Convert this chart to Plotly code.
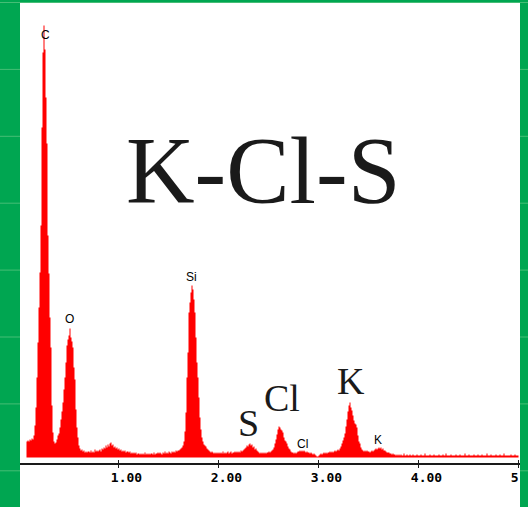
import numpy as np
import plotly.graph_objects as go

# Energy channels (keV), 0.01 keV per channel
energy = np.round(np.arange(501) * 0.01, 2)

# Counts per channel (arbitrary units), one row per 0.1 keV
counts = [
    0, 0, 0, 0, 0, 0, 0, 0, 16, 17,                      # 0.0
    16, 18, 17, 19, 18, 22, 32, 50, 80, 115,             # 0.1
    150, 185, 232, 330, 405, 432, 408, 360, 314, 222,    # 0.2
    184, 140, 110, 52, 25, 16, 14, 15, 18, 22,           # 0.3
    24, 30, 38, 46, 55, 68, 80, 95, 112, 118,            # 0.4
    122, 129, 120, 116, 110, 90, 78, 48, 30, 20,         # 0.5
    12, 9, 7, 8, 6, 7, 5, 6, 5, 6,                       # 0.6
    6, 5, 7, 5, 6, 5, 8, 6, 7, 6,                        # 0.7
    7, 8, 6, 9, 8, 10, 9, 12, 10, 13,                    # 0.8
    11, 14, 15, 12, 13, 10, 11, 9, 10, 8,                # 0.9
    9, 7, 8, 6, 7, 6, 7, 5, 6, 6,                        # 1.0
    5, 6, 4, 5, 4, 5, 4, 5, 3, 4,                        # 1.1
    4, 3, 4, 3, 4, 3, 5, 3, 4, 3,                        # 1.2
    4, 3, 4, 4, 3, 5, 3, 4, 4, 5,                        # 1.3
    4, 5, 4, 3, 5, 4, 6, 4, 5, 4,                        # 1.4
    6, 5, 4, 6, 5, 6, 5, 7, 6, 7,                        # 1.5
    7, 8, 9, 10, 12, 16, 26, 45, 80, 105,                # 1.6
    145, 155, 165, 172, 168, 158, 145, 120, 95, 80,      # 1.7
    60, 40, 28, 20, 16, 13, 12, 11, 9, 8,                # 1.8
    7, 6, 5, 6, 5, 4, 5, 4, 5, 4,                        # 1.9
    5, 4, 5, 4, 6, 4, 5, 4, 5, 6,                        # 2.0
    4, 5, 6, 4, 5, 5, 6, 5, 6, 5,                        # 2.1
    6, 5, 7, 6, 7, 8, 9, 10, 12, 11,                     # 2.2
    13, 14, 12, 13, 10, 11, 8, 9, 7, 6,                  # 2.3
    5, 4, 5, 4, 5, 4, 5, 4, 5, 5,                        # 2.4
    6, 5, 6, 7, 8, 10, 14, 18, 23, 28,                   # 2.5
    31, 30, 28, 27, 25, 20, 17, 16, 14, 11,              # 2.6
    9, 8, 6, 5, 5, 4, 5, 4, 5, 6,                        # 2.7
    6, 7, 6, 7, 6, 7, 6, 5, 6, 5,                        # 2.8
    5, 4, 5, 4, 3, 4, 3, 2, 1, 1,                        # 2.9
    2, 3, 4, 3, 4, 5, 4, 5, 4, 5,                        # 3.0
    5, 6, 5, 6, 5, 6, 7, 6, 7, 8,                        # 3.1
    7, 9, 11, 14, 17, 20, 24, 31, 38, 46,                # 3.2
    52, 55, 50, 47, 42, 37, 34, 33, 30, 22,              # 3.3
    16, 14, 10, 8, 7, 6, 7, 6, 7, 6,                     # 3.4
    6, 5, 6, 7, 6, 7, 8, 9, 8, 9,                        # 3.5
    10, 9, 10, 8, 9, 7, 7, 6, 5, 5,                      # 3.6
    5, 4, 4, 3, 4, 3, 3, 2, 3, 2,                        # 3.7
    3, 2, 3, 2, 2, 4, 2, 2, 3, 2,                        # 3.8
    2, 3, 2, 2, 3, 2, 2, 2, 3, 2,                        # 3.9
    2, 2, 3, 2, 2, 2, 4, 2, 2, 2,                        # 4.0
    2, 3, 2, 2, 2, 3, 2, 2, 2, 2,                        # 4.1
    3, 2, 2, 2, 3, 2, 2, 4, 2, 2,                        # 4.2
    2, 2, 3, 2, 2, 2, 2, 3, 2, 2,                        # 4.3
    2, 3, 2, 2, 2, 2, 4, 2, 2, 2,                        # 4.4
    3, 2, 2, 2, 2, 3, 2, 2, 2, 3,                        # 4.5
    2, 2, 2, 3, 2, 2, 2, 2, 4, 2,                        # 4.6
    2, 2, 3, 2, 2, 2, 2, 3, 2, 2,                        # 4.7
    2, 3, 2, 2, 2, 4, 2, 2, 2, 2,                        # 4.8
    2, 2, 3, 2, 2, 2, 3, 2, 2, 2,                        # 4.9
    2,                                                   # 5.0
]

tick_vals = [1, 2, 3, 4, 5]
tick_text = ["1.00", "2.00", "3.00", "4.00", "5\u00a0\u00a0\u00a0"]

# Element line labels: (text, energy, height)
small_labels = ["C", "O", "Si", "Cl", "K"]
small_x = [0.27, 0.512, 1.725, 2.84, 3.595]
small_y = [423, 139, 181, 14, 17.5]

big_labels = ["S", "Cl", "K"]
big_x = [2.298, 2.63, 3.325]
big_y = [35, 60, 77]

title_text = "K-Cl-S"

GREEN = "#00A651"
LIGHT = "#45BE76"

W, H = 528, 507
L, R, T, B = 20, 8, 3, 44
pw, ph = W - L - R, H - T - B


def px(x):
    return (x - L) / pw


def py(y):
    return (H - B - y) / ph


fig = go.Figure()
fig.add_trace(go.Scatter(
    x=energy, y=counts, mode="lines",
    line=dict(width=0, shape="hv", color="red"),
    fill="tozeroy", fillcolor="#FF0000",
    showlegend=False, hoverinfo="skip",
))
fig.add_trace(go.Scatter(x=[None], y=[None], xaxis="x2", showlegend=False))

shapes = []
line_ys = [2.5 + 66.9 * k for k in range(8)]
for yy in line_ys:
    shapes.append(dict(type="line", xref="paper", yref="paper",
                       x0=px(0), x1=px(W), y0=py(yy), y1=py(yy),
                       line=dict(color=LIGHT, width=1), layer="below"))
shapes.append(dict(type="rect", xref="paper", yref="paper",
                   x0=px(L), x1=px(W - R), y0=py(H), y1=py(3),
                   fillcolor="white", line=dict(width=0), layer="below"))
# right green strip (covers the clipped tick label)
shapes.append(dict(type="rect", xref="paper", yref="paper",
                   x0=px(W - R), x1=px(W + 20), y0=py(H + 2), y1=py(0),
                   fillcolor=GREEN, line=dict(width=0), layer="above"))
for yy in line_ys:
    shapes.append(dict(type="line", xref="paper", yref="paper",
                       x0=px(W - R), x1=px(W + 20), y0=py(yy), y1=py(yy),
                       line=dict(color=LIGHT, width=1), layer="above"))

annotations = []
for t, xx, yy in zip(small_labels, small_x, small_y):
    annotations.append(dict(text=t, x=xx, y=yy, xref="x", yref="y",
                            showarrow=False,
                            font=dict(family="Liberation Sans", size=12, color="black")))
for t, xx, yy in zip(big_labels, big_x, big_y):
    annotations.append(dict(text=t, x=xx, y=yy, xref="x", yref="y",
                            showarrow=False,
                            font=dict(family="Liberation Serif", size=38, color="#1a1a1a")))
annotations.append(dict(text=title_text, x=2.445, y=287, xref="x", yref="y",
                        showarrow=False,
                        font=dict(family="Liberation Serif", size=95, color="#1a1a1a")))

fig.update_layout(
    width=W, height=H,
    margin=dict(l=L, r=R, t=T, b=B, autoexpand=False),
    paper_bgcolor=GREEN,
    plot_bgcolor="white",
    shapes=shapes,
    annotations=annotations,
    xaxis=dict(range=[0.015, 5.015], showgrid=False, zeroline=False,
               automargin=False,
               showline=True, linecolor="#1a1a1a", linewidth=1.5,
               ticks="outside", ticklen=3, tickwidth=1.2, tickcolor="#1a1a1a",
               tickvals=tick_vals, ticktext=tick_text,
               ticklabelshift=8, ticklabelstandoff=-1,
               ticklabeloverflow="allow",
               tickfont=dict(family="DejaVu Sans Mono", size=13, color="black", weight="bold")),
    xaxis2=dict(range=[0.015, 5.015], overlaying="x", anchor="y", side="bottom",
                automargin=False,
                showgrid=False, zeroline=False, showline=False,
                ticks="inside", ticklen=3, tickwidth=1.2, tickcolor="#1a1a1a",
                tickvals=tick_vals, showticklabels=False),
    yaxis=dict(range=[-5.5, 454.5], visible=False, showgrid=False, zeroline=False),
)

fig.write_html("out.html")
